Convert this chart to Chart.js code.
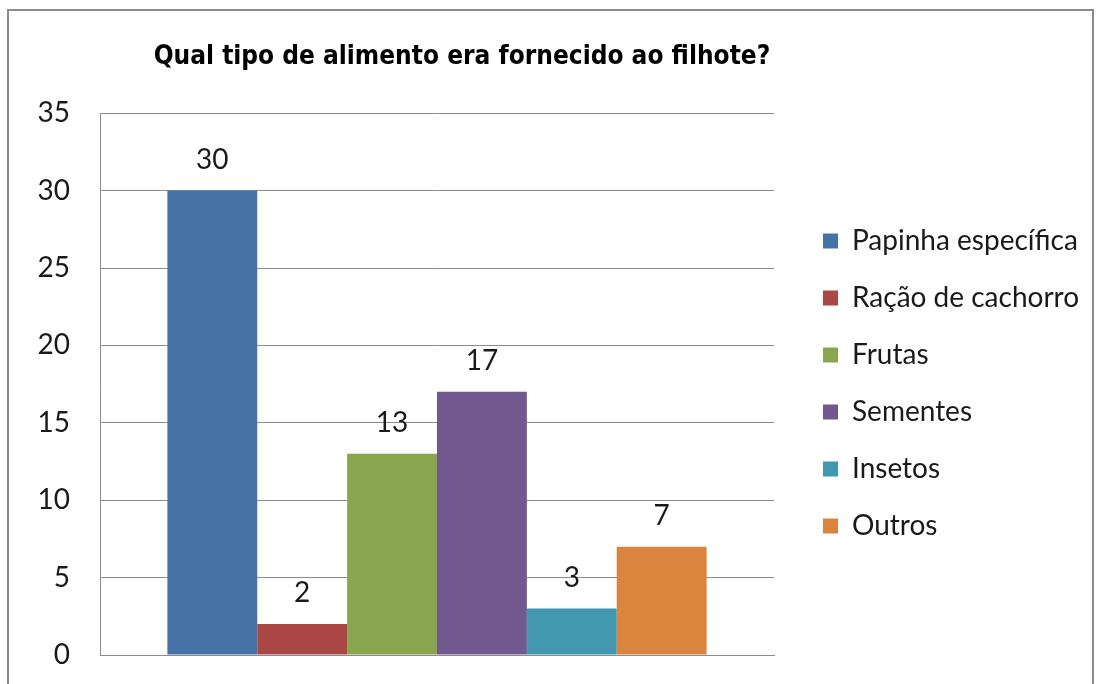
<!DOCTYPE html>
<html><head><meta charset="utf-8">
<script src="https://cdn.jsdelivr.net/npm/chart.js@4.4.1/dist/chart.umd.min.js"></script>
<style>
html,body{margin:0;padding:0;background:#fff;overflow:hidden}
#wrap{position:absolute;left:0;top:0;width:1096px;height:684px;overflow:hidden}
#frame{position:absolute;left:7px;top:9px;width:1087px;height:700px;border:2px solid #8a8a8a;box-sizing:border-box}
canvas{position:absolute;left:0;top:0}
</style></head>
<body><div id="wrap"><div id="frame"></div><canvas id="c" width="1096" height="684"></canvas></div>
<script>
const titleText = 'Qual tipo de alimento era fornecido ao filhote?';
const categories = [''];
const seriesNames = ['Papinha específica','Ração de cachorro','Frutas','Sementes','Insetos','Outros'];
const seriesValues = [30, 2, 13, 17, 3, 7];
const seriesColors = ['#4572A7','#AA4643','#89A54E','#71588F','#4198AF','#DB843D'];
const yTicks = [0,5,10,15,20,25,30,35];

const labelFont = "Lato, 'Open Sans', sans-serif";

const dataLabels = {
  id:'dataLabels',
  afterDatasetsDraw(chart){
    const ctx = chart.ctx;
    ctx.save();
    ctx.font = '28px ' + labelFont;
    ctx.fillStyle = '#1a1a1a';
    ctx.textAlign = 'center';
    ctx.textBaseline = 'alphabetic';
    chart.data.datasets.forEach((ds,i)=>{
      const meta = chart.getDatasetMeta(i);
      meta.data.forEach((bar,j)=>{
        ctx.fillText(String(ds.data[j]), bar.x, bar.y - 22);
      });
    });
    ctx.restore();
  }
};

// let the legend keep its natural width (Chart.js caps side boxes at a fraction of the canvas)
// and nudge the title a little to the right, as in the original
const boxTweaks = {
  id:'boxTweaks',
  beforeLayout(chart){
    const lg = chart.legend;
    if (lg && !lg._wPatched){
      const orig = lg.fit;
      lg.fit = function(){ orig.call(this); this.width = 302; };
      lg._wPatched = true;
    }
    const tb = chart.titleBlock;
    if (tb && !tb._dPatched){
      const od = tb.draw;
      tb.draw = function(){
        const c = this.ctx;
        c.save(); c.translate(25, 0);
        od.apply(this, arguments);
        c.restore();
      };
      tb._dPatched = true;
    }
  }
};

new Chart(document.getElementById('c'), {
  type:'bar',
  data:{
    labels: categories,
    datasets: seriesNames.map((n,i)=>({
      label:n, data:[seriesValues[i]], backgroundColor:seriesColors[i], borderWidth:0,
      categoryPercentage:0.8, barPercentage:1.0
    }))
  },
  options:{
    responsive:false, animation:false,
    layout:{padding:{left:10,right:0,top:10,bottom:15}},
    plugins:{
      title:{display:true, fullSize:false, text:titleText, color:'#000',
        font:{family:"'DejaVu Sans Condensed','Liberation Sans Narrow','Liberation Sans',sans-serif", size:26, weight:'bold'},
        padding:{top:32,bottom:40}},
      legend:{position:'right', align:'center',
        title:{display:true, text:' ', font:{size:10}, padding:{top:38,bottom:38}},
        labels:{font:{family:labelFont,size:28}, color:'#1a1a1a', boxWidth:15, boxHeight:15, padding:29}},
      tooltip:{enabled:false}
    },
    scales:{
      x:{grid:{display:false}, ticks:{display:false},
        afterFit(scale){scale.height = 14;},
        border:{display:true,color:'#8c8c8c',width:1}},
      y:{min:0,max:35,
        afterBuildTicks(scale){scale.ticks = yTicks.map(v=>({value:v}));},
        afterFit(scale){scale.width = 90;},
        grid:{color:'#8c8c8c', drawTicks:true, tickLength:30, tickColor:'rgba(0,0,0,0)', lineWidth:1},
        border:{display:true,color:'#8c8c8c',width:1},
        ticks:{font:{family:labelFont,size:28}, color:'#1a1a1a', padding:0}},
      spacer:{type:'linear', position:'right', display:true,
        afterFit(scale){scale.width = 20;},
        grid:{display:false, drawTicks:false}, border:{display:false}, ticks:{display:false}}
    }
  },
  plugins:[dataLabels, boxTweaks]
});
</script></body></html>
